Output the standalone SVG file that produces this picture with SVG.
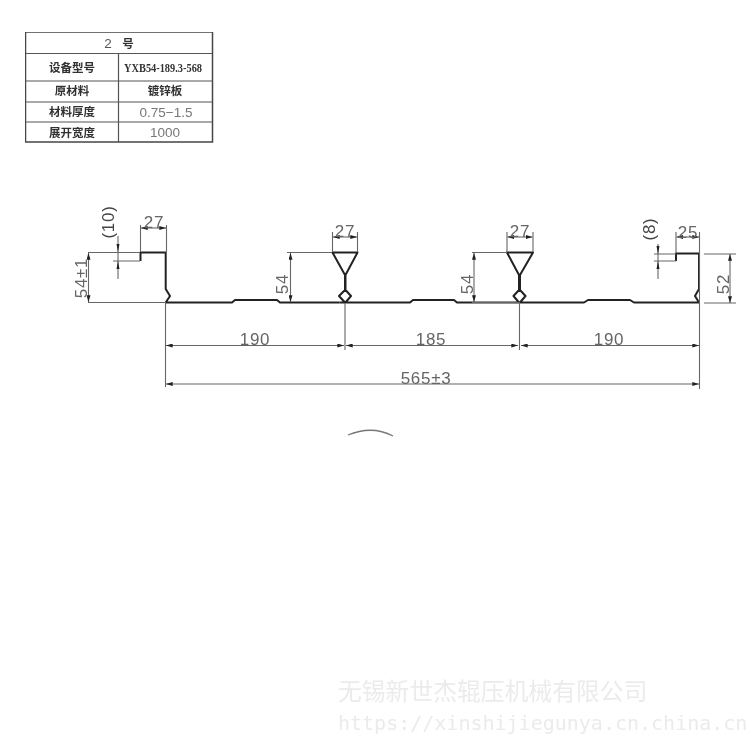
<svg xmlns="http://www.w3.org/2000/svg" width="750" height="750" viewBox="0 0 750 750">
<style>
.tb{fill:none;stroke:#444;stroke-width:1.5}
.tl{fill:none;stroke:#555;stroke-width:1.2}
.p{fill:none;stroke:#222;stroke-width:2;stroke-linejoin:round}
.d{fill:none;stroke:#666;stroke-width:1.1}
.a{fill:none;stroke:#666;stroke-width:1.1;marker-start:url(#h);marker-end:url(#h)}
.n{font-family:"Liberation Sans",Arial,sans-serif;font-size:17px;letter-spacing:.7px;fill:#666;text-anchor:middle}
.c{font-family:"Noto Sans CJK SC",sans-serif;font-size:11.5px;font-weight:700;fill:#333;text-anchor:middle}
.v{font-family:"Liberation Sans",Arial,sans-serif;font-size:13.5px;fill:#777;text-anchor:middle}
.w1{font-family:"Noto Sans CJK SC",sans-serif;font-size:23.8px;fill:#ebebeb}
.w2{font-family:"DejaVu Sans Mono",monospace;font-size:20px;fill:#ebebeb}
</style>
<defs>
<marker id="h" viewBox="0 0 10 6" refX="10" refY="3" markerWidth="7" markerHeight="4" orient="auto-start-reverse" markerUnits="userSpaceOnUse"><path d="M0 0L10 3L0 6Z" fill="#222"/></marker>
<filter id="soft" x="0" y="0" width="100%" height="100%"><feGaussianBlur stdDeviation="0.4"/></filter>
</defs>
<rect width="750" height="750" fill="#fff"/>
<g filter="url(#soft)">
<g id="spec-table">
<rect class="tb" x="25.500" y="32" width="187" height="110"/>
<path class="tl" d="M25.500 53.500H212.500M25.500 81H212.500M25.500 102H212.500M25.500 122H212.500M118.500 53.500V142"/>
<text class="v" x="108" y="48" style="fill:#555">2</text>
<text class="c" x="128" y="48">号</text>
<text class="c" x="72" y="72">设备型号</text>
<text x="163" y="72" class="c" style="font-family:'Liberation Serif',serif;font-size:12px" textLength="78" lengthAdjust="spacingAndGlyphs">YXB54-189.3-568</text>
<text class="c" x="72" y="95">原材料</text>
<text class="c" x="165" y="95">镀锌板</text>
<text class="c" x="72" y="116">材料厚度</text>
<text class="v" x="166" y="117">0.75−1.5</text>
<text class="c" x="72" y="137">展开宽度</text>
<text class="v" x="165" y="137">1000</text>
</g>
<g id="profile">
<path class="p" d="M140.500 261V252.500H165.700V289L170 296L165.700 302.500H232L235 300H277L280 302.500H339.500"/>
<path class="p" d="M339.500 302.500L345 302.500L339 296L345 290V275L332.500 252.500H357.500L345.500 275V290L351 296L345.500 302.500H410L413 300H454L457 302.500H513"/>
<path class="p" d="M513 302.500H519L513.500 296L519 290V275L507 252.500H533L520 275V290L525.500 296L520 302.500H584L588 300H630L634 302.500H699L695 296L699 289V253.500H676V261"/>
</g>
<g id="connectors">
<path class="d" d="M165.500 302V387M345 303V350M519.500 303V350M699.500 253V389"/>
<path class="d" d="M88 252.500H140M88 302.500H165M113 261H140M287 252.500H332M472 252.500H507M472 302.500H520M704 254H736M704 303H736M654 254H676M654 261H676"/>
<path class="d" d="M140.500 252V225M166.500 252V225M332.500 252V232M357.500 252V232M507 252V232M533 252V232M676 253V232M699.500 253V232"/>
<path class="a" d="M88.500 253V302"/>
<path class="a" d="M290.500 253V302"/>
<path class="a" d="M474 253V302"/>
<path class="a" d="M730 254V303"/>
<path class="d" d="M118 236V279"/>
<path d="M118 252L116.500 244H119.500ZM118 261L116.500 269H119.500Z" fill="#222"/>
<path class="d" d="M658 244V279"/>
<path d="M658 254L656.500 246H659.500ZM658 261L656.500 269H659.500Z" fill="#222"/>
<path class="a" d="M141 228H166"/>
<path class="a" d="M333 237H357"/>
<path class="a" d="M507.500 237H532.500"/>
<path class="a" d="M676.500 237H699"/>
<path class="a" d="M166 345.500H344"/>
<path d="M346 345.500H518" class="a"/>
<path d="M521 345.500H699" class="a"/>
<path class="a" d="M166 384H699"/>
</g>
<g id="dimension-labels">
<text class="n" x="154" y="228">27</text>
<text class="n" x="345" y="237">27</text>
<text class="n" x="520" y="237">27</text>
<text class="n" x="688" y="238">25</text>
<text class="n" x="255" y="345">190</text>
<text class="n" x="431" y="345">185</text>
<text class="n" x="609" y="345">190</text>
<text class="n" x="426" y="384">565±3</text>
<text class="n" transform="translate(87 278) rotate(-90)">54±1</text>
<text class="n" transform="translate(288 284) rotate(-90)">54</text>
<text class="n" transform="translate(473 284) rotate(-90)">54</text>
<text class="n" transform="translate(729 284) rotate(-90)">52</text>
<text class="n" style="fill:#444" transform="translate(114 222) rotate(-90)">(10)</text>
<text class="n" style="fill:#444" transform="translate(655 229) rotate(-90)">(8)</text>
</g>
<path d="M348 435Q372 425 393 436" fill="none" stroke="#777" stroke-width="1.3"/>
<g id="watermark">
<text class="w1" x="338" y="700">无锡新世杰辊压机械有限公司</text>
<text class="w2" x="338" y="730">https://xinshijiegunya.cn.china.cn</text>
</g>
</g>
</svg>
